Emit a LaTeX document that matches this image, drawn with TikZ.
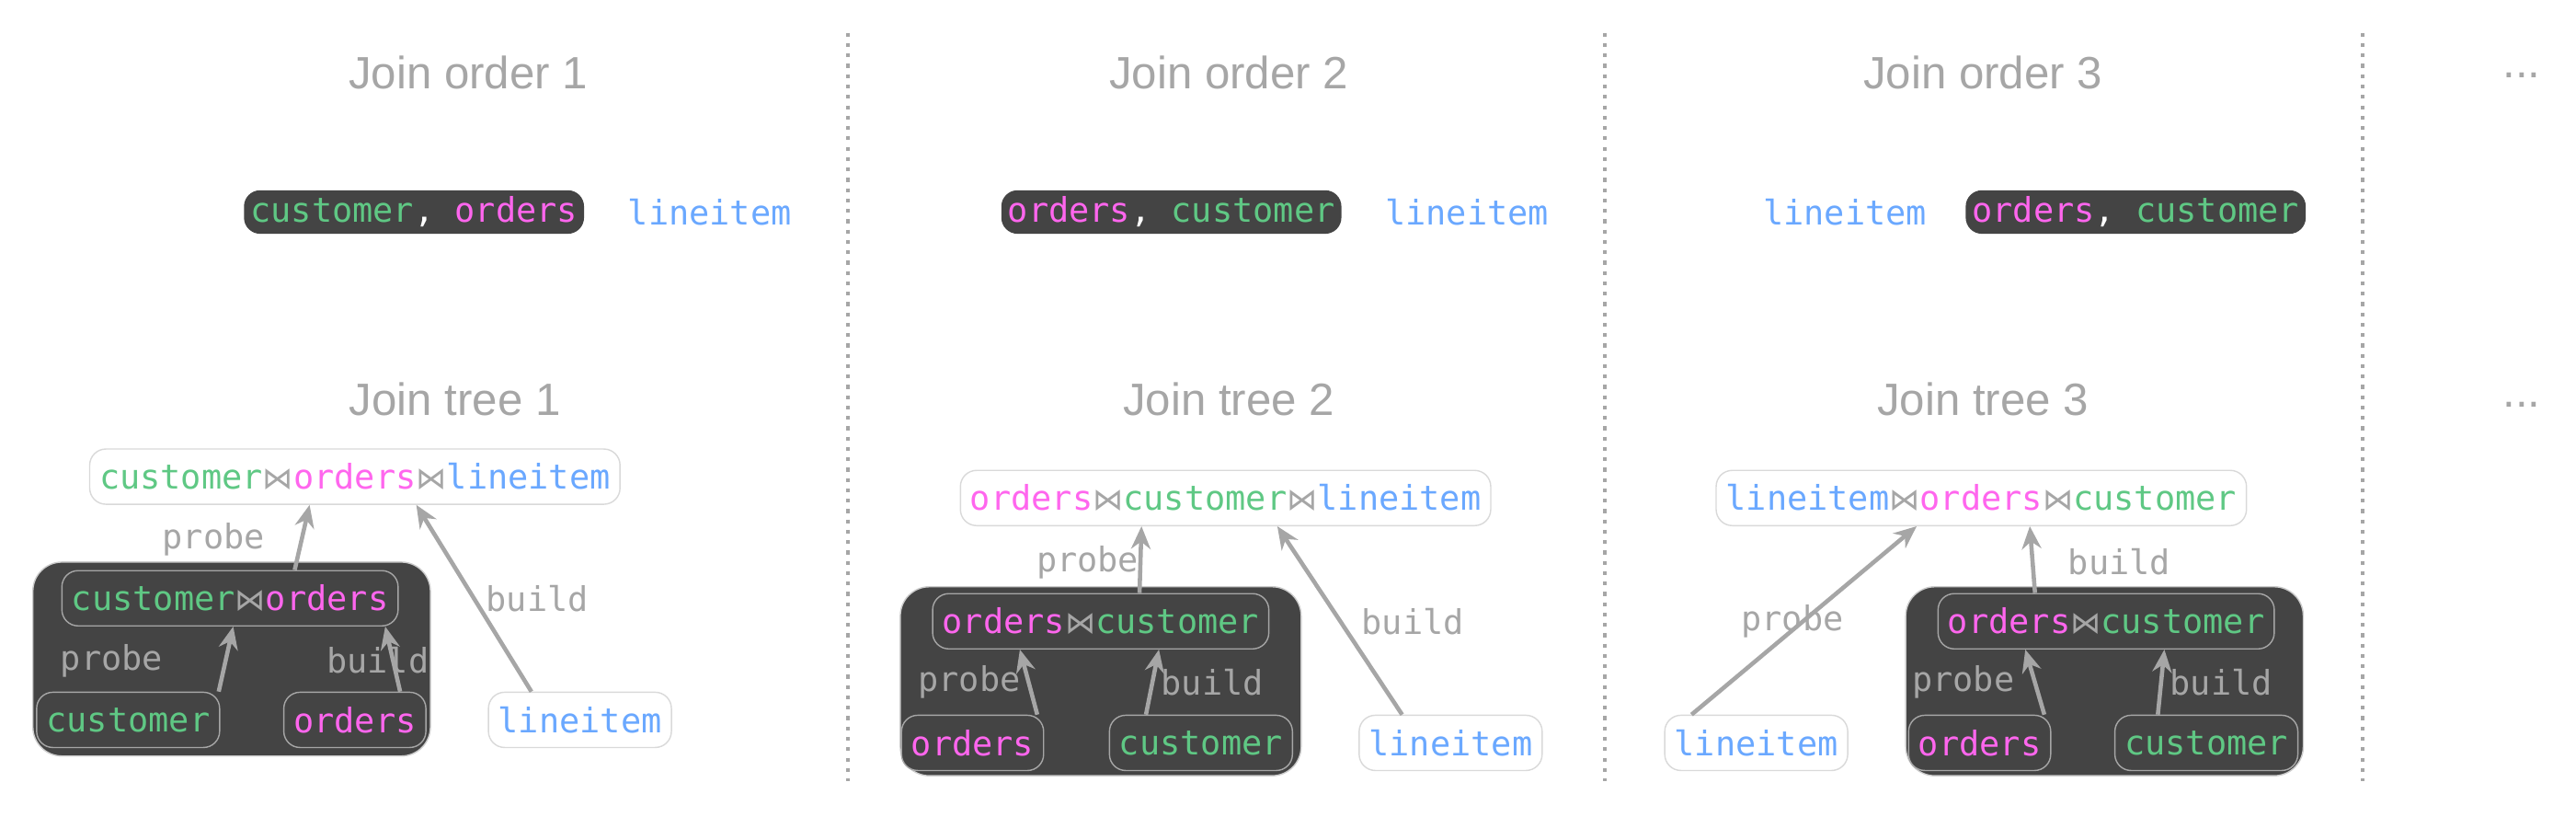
\documentclass[tikz,border=0pt]{standalone}
\usepackage{fontspec}
\usetikzlibrary{arrows.meta}
\setmainfont{Liberation Sans}
\newfontfamily\codefont{DejaVu Sans Mono}
\newfontfamily\symfont{DejaVu Sans}
\definecolor{cgreen}{HTML}{5FC884}
\definecolor{cpink}{HTML}{FF66EE}
\definecolor{cblue}{HTML}{6AA8FF}
\definecolor{cdark}{HTML}{444444}
\definecolor{cgray}{HTML}{A6A6A6}
\newcommand{\cu}{\textcolor{cgreen}{customer}}
\newcommand{\od}{\textcolor{cpink}{orders}}
\newcommand{\li}{\textcolor{cblue}{lineitem}}
\newcommand{\jn}{\textcolor{cgray}{\symfont\scalebox{0.9}{⋈}}}
\begin{document}
\begin{tikzpicture}[x=0.01786cm, y=-0.01786cm, font=\codefont\fontsize{10.5}{12}\selectfont]
\tikzstyle{titel}=[text=cgray, font=\fontsize{14}{16}\selectfont]
\tikzstyle{rel}=[rounded corners=5pt, inner sep=3pt, minimum height=0.6cm]
\tikzstyle{wrel}=[rel, draw=black!15, fill=white]
\tikzstyle{drel}=[rel, draw=cgray, fill=cdark]
\tikzstyle{darkbox}=[rounded corners=9pt, fill=cdark, draw=black!20]
\tikzstyle{pfeil}=[draw=cgray, line width=1.3pt, -{Stealth[length=7pt, width=6pt]}]
\tikzstyle{lab}=[text=cgray]
\useasboundingbox (0,0) rectangle (1568,497);
% dividers
\draw[cgray, dotted, line width=1.2pt](516,20)--(516,475);
\draw[cgray, dotted, line width=1.2pt](977,20)--(977,475);
\draw[cgray, dotted, line width=1.2pt](1438,20)--(1438,475);
% titles
\node[titel] (t1) at(285,44){Join order 1};
\node[titel] (t2) at(748,44){Join order 2};
\node[titel] (t3) at(1207,44){Join order 3};
\node[titel] (t4) at(1535,46){...};
\node[titel] (s1) at(277,243){Join tree 1};
\node[titel] (s2) at(748,243){Join tree 2};
\node[titel] (s3) at(1207,243){Join tree 3};
\node[titel] (s4) at(1535,246){...};
% join orders
\node[rel, fill=cdark, inner sep=2pt, minimum height=0.45cm] (o1) at(252,129){\cu\textcolor{white}{,} \od};
\node (l1) at(432,129){\li};
\node[rel, fill=cdark, inner sep=2pt, minimum height=0.45cm] (o2) at(713,129){\od\textcolor{white}{,} \cu};
\node (l2) at(893,129){\li};
\node (l3) at(1123,129){\li};
\node[rel, fill=cdark, inner sep=2pt, minimum height=0.45cm] (o3) at(1300,129){\od\textcolor{white}{,} \cu};
% join tree 1
\draw[darkbox](20,342) rectangle (262,460);
\node[wrel] (a0) at(216,290){\cu\jn\od\jn\li};
\node[drel] (a1) at(140,364){\cu\jn\od};
\node[drel] (a2) at(78,438){\cu};
\node[drel] (a3) at(216,438){\od};
\node[wrel] (a4) at(353,438){\li};
\draw[pfeil]([xshift=20]a1.north)--([xshift=-14]a0.south);
\draw[pfeil]([xshift=-15]a4.north)--([xshift=19]a0.south);
\draw[pfeil]([xshift=28]a2.north)--([xshift=1]a1.south);
\draw[pfeil]([xshift=14]a3.north)--([xshift=48]a1.south);
\node[lab] at(130,328){probe};
\node[lab] at(327,364){build};
\node[lab] at(68,402){probe};
\node[lab] at(230,402){build};
% join tree 2
\draw[darkbox](548,357) rectangle (792,472);
\node[wrel] (b0) at(746,303){\od\jn\cu\jn\li};
\node[drel] (b1) at(670,378){\od\jn\cu};
\node[drel] (b2) at(592,452){\od};
\node[drel] (b3) at(731,452){\cu};
\node[wrel] (b4) at(883,452){\li};
\draw[pfeil]([xshift=12]b1.north)--([xshift=-26]b0.south);
\draw[pfeil]([xshift=-15]b4.north)--([xshift=16]b0.south);
\draw[pfeil]([xshift=20]b2.north)--([xshift=-25]b1.south);
\draw[pfeil]([xshift=-17]b3.north)--([xshift=18]b1.south);
\node[lab] at(662,342){probe};
\node[lab] at(860,378){build};
\node[lab] at(590,415){probe};
\node[lab] at(738,415){build};
% join tree 3
\draw[darkbox](1160,357) rectangle (1402,472);
\node[wrel] (c0) at(1206,303){\li\jn\od\jn\cu};
\node[drel] (c1) at(1282,378){\od\jn\cu};
\node[drel] (c2) at(1205,452){\od};
\node[drel] (c3) at(1343,452){\cu};
\node[wrel] (c4) at(1069,452){\li};
\draw[pfeil]([xshift=-22]c1.north)--([xshift=15]c0.south);
\draw[pfeil]([xshift=-20]c4.north)--([xshift=-20]c0.south);
\draw[pfeil]([xshift=20]c2.north)--([xshift=-25]c1.south);
\draw[pfeil]([xshift=-15]c3.north)--([xshift=18]c1.south);
\node[lab] at(1091,378){probe};
\node[lab] at(1290,342){build};
\node[lab] at(1195,415){probe};
\node[lab] at(1352,415){build};
\end{tikzpicture}
\end{document}
